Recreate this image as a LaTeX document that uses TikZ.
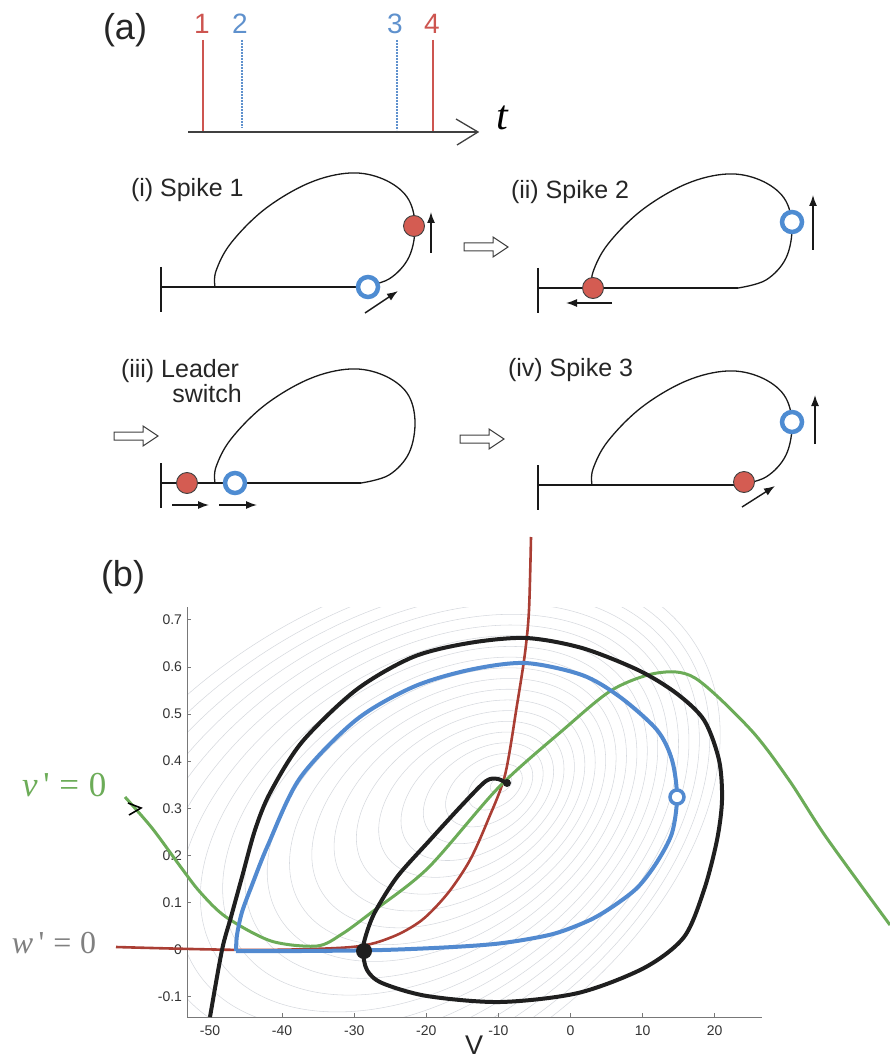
\documentclass[tikz,border=0pt]{standalone}
\usepackage{fontspec}
\setmainfont{Liberation Sans}
\newfontfamily\serifm{Liberation Serif}
\usetikzlibrary{arrows.meta}
\definecolor{tlred}{RGB}{205,85,80}
\definecolor{tlblue}{RGB}{95,145,205}
\definecolor{nred}{RGB}{170,62,52}
\definecolor{ngreen}{RGB}{108,172,88}
\definecolor{nblue}{RGB}{82,138,208}
\definecolor{dotred}{RGB}{212,92,82}
\definecolor{ringblue}{RGB}{78,140,210}
\definecolor{contourc}{RGB}{214,217,222}
\definecolor{axisc}{RGB}{120,120,120}
\begin{document}
\begin{tikzpicture}[x=1pt,y=-1pt,
  every node/.style={inner sep=0pt, outer sep=0pt},
  lbl/.style={font=\fontsize{25}{28}\selectfont, text=black!85},
  biglbl/.style={font=\fontsize{36}{40}\selectfont, text=black!85},
  numlbl/.style={font=\fontsize{28}{30}\selectfont},
  ticklbl/.style={font=\fontsize{14}{16}\selectfont, text=black!80},
  blk/.style={-{Latex[length=11pt,width=8pt]}, line width=1.4pt, black!90},
  loopline/.style={line width=1.3pt, black!90},
  reddot/.style={circle, fill=dotred, draw=black!75, line width=0.9pt, minimum size=21pt},
  bluering/.style={circle, draw=ringblue, fill=white, line width=4.5pt, minimum size=20pt},
  hollowarr/.style={draw=black!75, line width=1pt, fill=white},
  contourline/.style={draw=contourc, line width=0.55pt},
  cyc/.pic={
    \draw[loopline] (0,-20) -- (0,25);
    \draw[loopline] (0,0) -- (200,0);
    \draw[loopline] plot[smooth, tension=0.6] coordinates {(54,0) (55,-16) (70,-44) (104,-78) (148,-104) (189,-114) (222,-108) (246,-90) (254,-62) (248,-30) (228,-8) (200,0)};
  },
  blockarrow/.pic={
    \draw[hollowarr] (0,-4) -- (29,-4) -- (29,-10) -- (44,0) -- (29,10) -- (29,4) -- (0,4) -- cycle;
  }
]
\useasboundingbox (0,0) rectangle (890,1064);

% ---------------- (a) timeline ----------------
\node[biglbl] (alab) at (125,30) {(a)};
\coordinate (tax0) at (188,132);
\coordinate (tax1) at (478,132);
\draw[line width=1.3pt, black!75] (tax0) -- (tax1);
\draw[line width=1.3pt, black!75] (456,119) -- (tax1) -- (457,145);
\node[font=\serifm\itshape\fontsize{42}{44}\selectfont] (tlab) at (502,118) {t};
\node[numlbl, text=tlred] (n1) at (202,24) {1};
\node[numlbl, text=tlblue] (n2) at (240,24) {2};
\node[numlbl, text=tlblue] (n3) at (395,24) {3};
\node[numlbl, text=tlred] (n4) at (432,24) {4};
\draw[tlred, line width=2pt] (203,40) -- (203,131);
\draw[tlblue, line width=2pt, dash pattern=on 1.6pt off 1.4pt] (242,40) -- (242,128);
\draw[tlblue, line width=2pt, dash pattern=on 1.6pt off 1.4pt] (397,40) -- (397,130);
\draw[tlred, line width=2pt] (433,40) -- (433,131);

% ---------------- (a) panels ----------------
\node[lbl, anchor=west] (l1) at (131,190) {(i) Spike 1};
\node[lbl, anchor=west] (l2) at (511,192) {(ii) Spike 2};
\node[lbl, anchor=west] (l3) at (121,371) {(iii) Leader};
\node[lbl] (l3b) at (207,394) {switch};
\node[lbl, anchor=west] (l4) at (508,370) {(iv) Spike 3};

\pic at (161,287) {cyc};
\pic at (538,288) {cyc};
\pic at (161,483) {cyc};
\pic at (538,485) {cyc};

\pic at (464,247) {blockarrow};
\pic at (114,436) {blockarrow};
\pic at (460,439) {blockarrow};

% panel (i)
\node[reddot] (r1) at (414,226) {};
\node[bluering] (b1) at (368,287) {};
\draw[blk] (431,253) -- (431,212);
\draw[blk] (365,313) -- (398,291);
% panel (ii)
\node[reddot] (r2) at (593,288) {};
\node[bluering] (b2) at (792,222) {};
\draw[blk] (813,250) -- (813,195);
\draw[blk] (612,303) -- (566,303);
% panel (iii)
\node[reddot] (r3) at (187,483) {};
\node[bluering] (b3) at (235,483) {};
\draw[blk] (172,505) -- (209,505);
\draw[blk] (219,505) -- (257,505);
% panel (iv)
\node[bluering] (b4) at (792,422) {};
\node[reddot] (r4) at (744,482) {};
\draw[blk] (815,444) -- (815,395);
\draw[blk] (742,507) -- (775,486);

% ---------------- (b) phase plane ----------------
\node[biglbl] (blab) at (123,577) {(b)};

% contour lines
\begin{scope}
\clip (187,607) rectangle (762,1017);
\foreach \a in {12,30,...,380} {
  \pgfmathsetmacro{\cx}{505-0.33*\a}
  \pgfmathsetmacro{\cy}{782+0.17*\a}
  \pgfmathsetmacro{\bb}{0.64*\a}
  \draw[contourline, rotate around={33:(\cx,\cy)}] (\cx,\cy) ellipse [x radius=\a pt, y radius=\bb pt];
}
\end{scope}

% axes
\coordinate (o) at (187,1017);
\coordinate (xe) at (762,1017);
\coordinate (ye) at (187,607);
\draw[axisc, line width=0.9pt] (ye) -- (o) -- (xe);
\foreach \v in {-50,-40,...,20} {
  \draw[axisc, line width=0.8pt] ({570.5+7.21*\v},1017) -- ++(0,-4);
  \node[ticklbl] at ({570.5+7.21*\v},1031) {\v};
}
\foreach \w/\t in {-0.1/-0.1,0/0,0.1/0.1,0.2/0.2,0.3/0.3,0.4/0.4,0.5/0.5,0.6/0.6,0.7/0.7} {
  \draw[axisc, line width=0.8pt] (187,{949.5-471*\w}) -- ++(4,0);
  \node[ticklbl, anchor=east] at (182,{949.5-471*\w}) {\t};
}
\node[font=\fontsize{27}{29}\selectfont, text=black!85] (vlab) at (474,1045) {V};

% w-nullcline (red)
\draw[nred, line width=2.6pt] plot[smooth, tension=0.5] coordinates {(116,947) (251,950) (352,947) (392,937) (422,920) (448,893) (470,860) (488,820) (505,775) (517,705) (525,653) (529,610) (531,537)};

% v-nullcline (green)
\draw[ngreen, line width=3pt] plot[smooth, tension=0.5] coordinates {(125,797) (152,828) (180,866) (200,892) (226,917) (271,941) (317,946) (342,934) (372,912) (428,868) (499,787) (563,730) (612,690) (657,673) (695,678) (751,730) (789,780) (826,837) (890,925)};

% blue trajectory
\draw[nblue, line width=4pt] plot[smooth, tension=0.5] coordinates {(236,951) (237,935) (242,912) (252,885) (268,845) (300,778) (356,720) (413,687) (469,670) (525,663) (582,675) (620,697) (657,730) (672,760) (677,797) (672,833) (657,862) (638,887) (615,905) (590,920) (553,934) (503,943) (453,947) (382,950) (300,951) (236,951)};

% black trajectory
\draw[black!88, line width=4pt, line join=round] plot[smooth, tension=0.5] coordinates {(508,784) (498,779) (486,781) (463,804) (430,840) (397,877) (375,912) (366,935) (363,951) (367,970) (382,983) (427,996) (500,1002) (578,993) (644,968) (684,937) (704,890) (717,840) (722,800) (719,760) (704,720) (676,693) (638,670) (582,648) (526,638) (469,643) (413,657) (356,690) (302,742) (270,793) (255,830) (242,877) (231,917) (222,950) (210,1017)};

\node[circle, fill=black!88, minimum size=8pt] (fp) at (507,783) {};
\node[circle, fill=black!88, minimum size=16pt] (saddle) at (364,951) {};
\node[circle, draw=nblue, fill=white, line width=3.5pt, minimum size=14pt] (bc) at (677,797) {};

% labels
\node[font=\serifm\fontsize{35}{38}\selectfont, text=ngreen, anchor=west] (vnull) at (22,785) {\textit{v}\,'\;=\;0};
\node[font=\serifm\fontsize{32}{35}\selectfont, text=black!50, anchor=west] (wnull) at (12,943) {\textit{w}\,'\;=\;0};
\draw[black, line width=1.6pt] (128,803) -- (141,808) -- (129,815);

\end{tikzpicture}
\end{document}
